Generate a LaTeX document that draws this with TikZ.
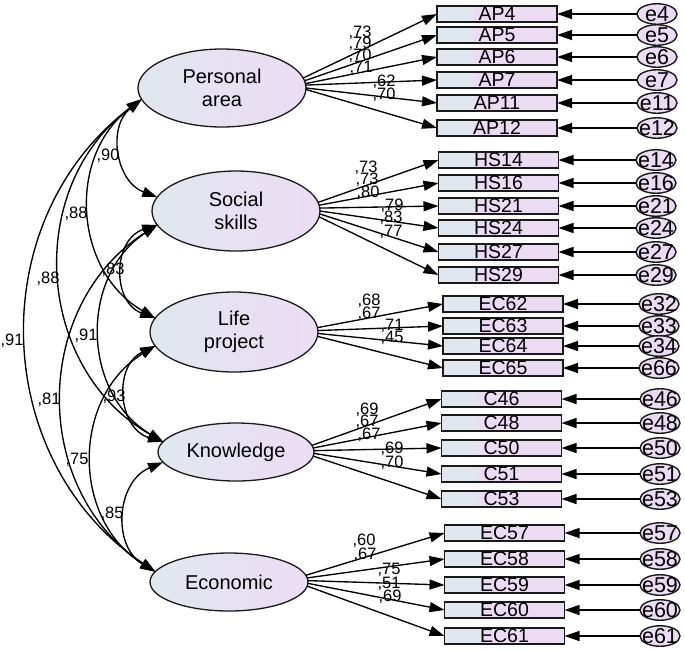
\documentclass[tikz,border=0pt]{standalone}
\usepackage{fontspec}
\setmainfont{Liberation Sans}
\usetikzlibrary{arrows.meta,shapes.geometric}
\definecolor{lblue}{HTML}{E1E7EF}
\definecolor{lav}{HTML}{EBDCF4}
\definecolor{edge}{HTML}{1A1A1A}
\tikzset{
  tip/.style={-{Triangle[length=15pt,width=10pt]}},
  dtip/.style={{Triangle[length=15pt,width=10pt]}-{Triangle[length=15pt,width=10pt]}},
  ln/.style={line width=1.35pt, draw=black},
  latent/.style={ellipse, draw=edge, line width=1.3pt, left color=lblue, right color=lav,
    minimum width=168pt, minimum height=78pt, inner sep=0pt, outer sep=0pt, align=center,
    font=\fontsize{20}{23}\selectfont},
  obs/.style={rectangle, draw=edge, line width=1.4pt, fill=lav, minimum width=120pt,
    minimum height=16pt, inner sep=0pt, outer sep=0pt, text height=13.5pt, text depth=0pt,
    font=\fontsize{19.5}{19.5}\selectfont,
    path picture={\fill[lblue] (path picture bounding box.south west) rectangle
      ([xshift=36pt]path picture bounding box.north west);}},
  err/.style={ellipse, draw=edge, line width=1.4pt, fill=lav, minimum width=40pt,
    minimum height=18pt, inner sep=0pt, outer sep=0pt, text height=14.5pt, text depth=0pt,
    font=\fontsize{21.5}{21.5}\selectfont},
  lab/.style={inner sep=0pt, font=\fontsize{16.5}{16.5}\selectfont},
}
\begin{document}
\begin{tikzpicture}[x=1pt,y=-1pt]
\useasboundingbox (0,0) rectangle (685,649);
% latent variables
\node[latent] (PA) at (222,88) {Personal\\area};
\node[latent, minimum height=80pt] (SS) at (236,211) {Social\\skills};
\node[latent, minimum height=80pt] (LP) at (234,332) {Life\\project};
\node[latent, minimum width=156pt, minimum height=58pt] (KN) at (236,452) {Knowledge};
\node[latent, minimum width=158pt, minimum height=58pt] (ECO) at (229,582) {Economic};
% Personal area
\foreach \n/\e/\y/\a in {AP4/e4/14/7, AP5/e5/35/5, AP6/e6/57/3.5, AP7/e7/80/2, AP11/e11/103/0.5, AP12/e12/128/-1.5}{
  \node[obs] (\n) at (497,\y) {\n};
  \node[err] (\e) at (657,\y) {\makebox[0pt]{\e}};
  \draw[ln,tip] (\e) -- (\n);
  \draw[ln,tip] (PA.\a) -- (\n.west);
}
% Social skills
\foreach \n/\e/\y/\a in {HS14/e14/160/6, HS16/e16/183/4, HS21/e21/206/2, HS24/e24/228/0, HS27/e27/252/-2, HS29/e29/275/-4}{
  \node[obs] (\n) at (498.5,\y) {\n};
  \node[err] (\e) at (656,\y) {\makebox[0pt]{\e}};
  \draw[ln,tip] (\e) -- (\n);
  \draw[ln,tip] (SS.\a) -- (\n.west);
}
% Life project
\foreach \n/\e/\y/\a in {EC62/e32/304/3, EC63/e33/326/1, EC64/e34/346/-1, EC65/e66/368/-3}{
  \node[obs] (\n) at (503,\y) {\n};
  \node[err] (\e) at (659,\y) {\makebox[0pt]{\e}};
  \draw[ln,tip] (\e) -- (\n);
  \draw[ln,tip] (LP.\a) -- (\n.west);
}
% Knowledge
\foreach \n/\e/\y/\a in {C46/e46/399/5, C48/e48/423/3, C50/e50/448/1, C51/e51/474/-1, C53/e53/499/-3}{
  \node[obs] (\n) at (501.5,\y) {\n};
  \node[err] (\e) at (660,\y) {\makebox[0pt]{\e}};
  \draw[ln,tip] (\e) -- (\n);
  \draw[ln,tip] (KN.\a) -- (\n.west);
}
% Economic
\foreach \n/\e/\y/\a in {EC57/e57/533/5, EC58/e58/559/3, EC59/e59/585/1, EC60/e60/610/-1, EC61/e61/636/-3}{
  \node[obs] (\n) at (504.5,\y) {\n};
  \node[err] (\e) at (660,\y) {\makebox[0pt]{\e}};
  \draw[ln,tip] (\e) -- (\n);
  \draw[ln,tip] (ECO.\a) -- (\n.west);
}
% loading labels
\foreach \x/\y/\t in {360/33/73, 360/44/79, 360/56/70, 361/68/71, 384/82/62, 384/95/70,
  366/168/73, 367/180/73, 368/193/80, 392/206/79, 391/218/83, 391/232/77,
  369/301/68, 369/314/67, 392/326/71, 392/338/45,
  367/410/69, 367/422/67, 369/435/67, 392/449/69, 392/463/70,
  364/541/60, 365/555/67, 389/570/75, 389/584/51, 390/597/69}{
  \node[lab] (ld\x-\y) at (\x,\y) {,\t};
}
% covariances
\draw[ln,dtip] (PA.188) to[bend right=60.4, looseness=1.14] (SS.170);
\draw[ln,dtip] (PA.188) to[bend right=56.4, looseness=1.10] (LP.170);
\draw[ln,dtip] (PA.188) to[bend right=56.7, looseness=1.10] (KN.172);
\draw[ln,dtip] (PA.188) to[bend right=54.5, looseness=1.08] (ECO.172);
\draw[ln,dtip] (SS.190) to[bend right=70.8, looseness=1.28] (LP.170);
\draw[ln,dtip] (SS.190) to[bend right=57.8, looseness=1.11] (KN.172);
\draw[ln,dtip] (SS.190) to[bend right=56.9, looseness=1.10] (ECO.172);
\draw[ln,dtip] (LP.190) to[bend right=69, looseness=1.25] (KN.172);
\draw[ln,dtip] (LP.190) to[bend right=58.3, looseness=1.12] (ECO.172);
\draw[ln,dtip] (KN.188) to[bend right=63.4, looseness=1.18] (ECO.172);
% covariance labels
\foreach \x/\y/\t in {108/156/90, 76/214/88, 113/270/83, 48/279/88, 12/341/91,
  86/336/91, 49/400/81, 114/397/93, 77/460/75, 112/514/85}{
  \node[lab] (cv\x-\y) at (\x,\y) {,\t};
}
\end{tikzpicture}
\end{document}
